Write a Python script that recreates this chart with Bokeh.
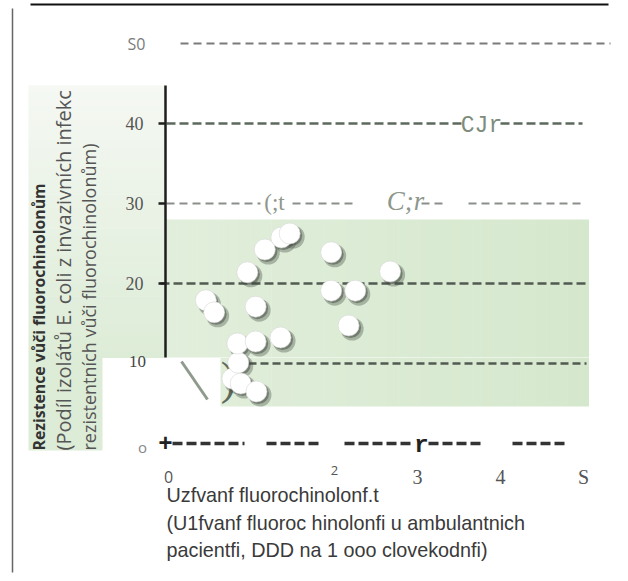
import numpy as np
from bokeh.plotting import figure
from bokeh.models import Range1d
from bokeh.core.properties import value
from bokeh.embed import file_html
from bokeh.resources import INLINE

# Fluoroquinolone use (DDD per 1000 inhabitants per day) vs. resistance (%)
usage = [0.45, 0.55, 0.77, 0.87, 0.84, 0.83, 1.06, 1.05, 1.05, 1.35, 0.95,
         1.16, 1.36, 1.46, 1.96, 1.96, 2.25, 2.17, 2.67]
resistance = [17.9, 16.4, 8.1, 7.5, 10.1, 12.5, 6.5, 12.75, 17.1, 13.25, 21.4,
              24.25, 25.75, 26.25, 23.9, 19.1, 19.1, 14.75, 21.5]

y_tick_values = [50, 40, 30, 20, 10, 0]
y_tick_labels = ["S0", "40", "30", "20", "10", "o"]
x_tick_values = [0, 2, 3, 4, 5]
x_tick_labels = ["0", "2", "3", "4", "S"]

W, H = 628, 581
X0, XS = 168, 83.0   # pixel of x=0, pixels per unit
Y0, YS = 443, 8.0    # pixel of y=0, pixels per unit


def px(xp):
    return (xp - X0) / XS


def py(yp):
    return (Y0 - yp) / YS


p = figure(width=W, height=H, x_range=Range1d(px(0), px(W)),
           y_range=Range1d(py(H), py(0)), x_axis_type=None, y_axis_type=None,
           toolbar_location=None, output_backend="svg", min_border=0)
p.grid.visible = False
p.outline_line_color = None
p.background_fill_color = "white"
p.border_fill_color = "white"


def lerp(c1, c2, t):
    return "#%02x%02x%02x" % tuple(int(round(a + (b - a) * t)) for a, b in zip(c1, c2))


# shaded backgrounds
n = 40
L, R, T, B = [], [], [], []
cols = []
# left column behind the y title (vertical fade)
top_c, bot_c = (245, 248, 243), (221, 236, 215)
for i in range(n):
    t0 = 85 + (357 - 85) * i / n
    t1 = 85 + (357 - 85) * (i + 1) / n
    L.append(px(28)); R.append(px(165)); T.append(py(t0)); B.append(py(t1 + 0.5))
    cols.append(lerp(top_c, bot_c, i / (n - 1)))
L.append(px(28)); R.append(px(102)); T.append(py(357)); B.append(py(450)); cols.append(lerp(top_c, bot_c, 1))
# main panel (horizontal fade)
lc, rc = (225, 238, 219), (213, 232, 205)
for i in range(n):
    x0 = 165 + (588 - 165) * i / n
    x1 = 165 + (588 - 165) * (i + 1) / n
    L.append(px(x0)); R.append(px(x1 + 0.5)); T.append(py(219)); B.append(py(357))
    cols.append(lerp(lc, rc, i / (n - 1)))
    if x1 > 220:
        L.append(px(max(x0, 220))); R.append(px(x1 + 0.5)); T.append(py(357.5)); B.append(py(406))
        cols.append(lerp(lc, rc, i / (n - 1)))
p.quad(left=L, right=R, top=T, bottom=B, fill_color=cols, line_color=None)

# frame lines
p.segment(x0=[px(30)], y0=[py(4)], x1=[px(608)], y1=[py(4)], line_color="#111111", line_width=2)
p.segment(x0=[px(12)], y0=[py(8)], x1=[px(12)], y1=[py(572)], line_color="#666666", line_width=1.5)

# dashed reference lines at the tick values
dash_specs = {
    50: ([(180, 610)], "#7b7b7b", 2, "8 5"),
    40: ([(166, 464), (500, 582)], "#5e695e", 2.5, "9 4"),
    30: ([(166, 260), (292, 354), (421, 442), (468, 582)], "#8b8f8b", 2, "8 5"),
    20: ([(160, 586)], "#525a52", 2.5, "9 4"),
    10: ([(248, 586)], "#525a52", 2.5, "8 4"),
    0: ([(172, 244), (266, 322), (344, 414), (428, 482), (512, 568)], "#333333", 3.5, "10 4"),
}
for yv, (segs, col, lw, dash) in dash_specs.items():
    p.segment(x0=[px(a) for a, b in segs], x1=[px(b) for a, b in segs],
              y0=[yv] * len(segs), y1=[yv] * len(segs),
              line_color=col, line_width=lw, line_dash=dash)

# y axis line and ticks
p.segment(x0=[px(165)], y0=[py(85)], x1=[px(165)], y1=[py(357)], line_color="#1e1e1e", line_width=2.5)
p.segment(x0=[px(158)] * 3, x1=[px(165)] * 3, y0=[40, 30, 20], y1=[40, 30, 20],
          line_color="#1e1e1e", line_width=2.5)

# glyphs sitting on the zero rule
p.text(x=[px(165), px(421)], y=[py(442), py(445)], text=["+", "r"],
       text_font=value("Liberation Mono"), text_font_style="bold", text_font_size="24px",
       text_color="#222222", text_align="center", text_baseline="middle")

# inline marks on the reference lines
p.text(x=[px(481)], y=[py(125)], text=["CJr"], text_font=value("Liberation Mono"),
       text_font_size="23px", text_color="#7d8c7b", text_align="center", text_baseline="middle")
p.text(x=[px(274)], y=[py(202)], text=["(;t"], text_font=value("Liberation Serif"),
       text_font_size="23px", text_color="#8e978d", text_align="center", text_baseline="middle")
p.text(x=[px(405)], y=[py(200)], text=["C;r"], text_font=value("Liberation Serif"),
       text_font_style="italic", text_font_size="27px", text_color="#8e978d",
       text_align="center", text_baseline="middle")
p.segment(x0=[px(181)], y0=[py(361)], x1=[px(207)], y1=[py(399)], line_color="#8f9c8d", line_width=3)
p.text(x=[px(228)], y=[py(378)], text=[")"], text_font=value("Liberation Serif"),
       text_font_size="46px", text_color="#5d6a5b", text_align="center", text_baseline="middle")

# points with soft drop shadow
p.scatter([u + 3.5 / XS for u in usage], [r - 3.5 / YS for r in resistance], size=23,
          fill_color="#3f473e", fill_alpha=0.35, line_color=None)
p.scatter([u + 2 / XS for u in usage], [r - 2 / YS for r in resistance], size=21,
          fill_color="#3f473e", fill_alpha=0.5, line_color=None)
p.scatter(usage, resistance, size=21, fill_color="white", line_color="#d6d6d6", line_width=0.6)

# y tick labels
y_label_x = [136, 134, 134, 134, 137, 142]
y_label_font = ["Open Sans", "Liberation Serif", "Liberation Serif", "Liberation Serif",
                "Liberation Serif", "Open Sans"]
y_label_size = ["16px", "18px", "18px", "18px", "17px", "15px"]
y_label_col = ["#7a7a7a", "#555555", "#555555", "#555555", "#444444", "#888888"]
for v, lab, xp, f, s, c in zip(y_tick_values, y_tick_labels, y_label_x, y_label_font,
                               y_label_size, y_label_col):
    p.text(x=[px(xp)], y=[v + (0.3 if v == 10 else 0) - (0.4 if v == 0 else 0)], text=[lab],
           text_font=value(f), text_font_size=s, text_color=c,
           text_align="center", text_baseline="middle")

# x tick labels
x_label_y = [476, 470, 476, 476, 476]
x_label_font = ["Open Sans", "Open Sans", "Liberation Serif", "Liberation Serif", "Liberation Serif"]
x_label_size = ["16px", "13px", "20px", "20px", "20px"]
for v, lab, yp, f, s in zip(x_tick_values, x_tick_labels, x_label_y, x_label_font, x_label_size):
    p.text(x=[v], y=[py(yp)], text=[lab], text_font=value(f), text_font_size=s,
           text_color="#555555", text_align="center", text_baseline="middle")

# axis titles
x_title = ["Uzfvanf fluorochinolonf.t",
           "(U1fvanf fluoroc hinolonfi  u ambulantnich",
           "pacientfi, DDD na 1 ooo clovekodnfi)"]
for line, yp in zip(x_title, [494, 522, 549]):
    p.text(x=[px(166)], y=[py(yp)], text=[line], text_font=value("Liberation Sans"),
           text_font_size="19.8px", text_color="#3a3a3a", text_align="left", text_baseline="middle")

y_title = ["Rezistence vůči fluorochinolonům",
           "(Podíl izolátů E. coli z invazivních infekc",
           "rezistentních vůči fluorochinolonům)"]
y_title_x = [38, 63, 88]
y_title_style = ["bold", "normal", "normal"]
y_title_size = ["15.8px", "20px", "18px"]
y_title_col = ["#333333", "#555555", "#555555"]
for line, xp, st, s, c in zip(y_title, y_title_x, y_title_style, y_title_size, y_title_col):
    p.text(x=[px(xp)], y=[py(450)], text=[line], angle=np.pi / 2,
           text_font=value("Open Sans"), text_font_style=st, text_font_size=s,
           text_color=c, text_align="left", text_baseline="middle")

open("out.html", "w").write(file_html(p, INLINE))
